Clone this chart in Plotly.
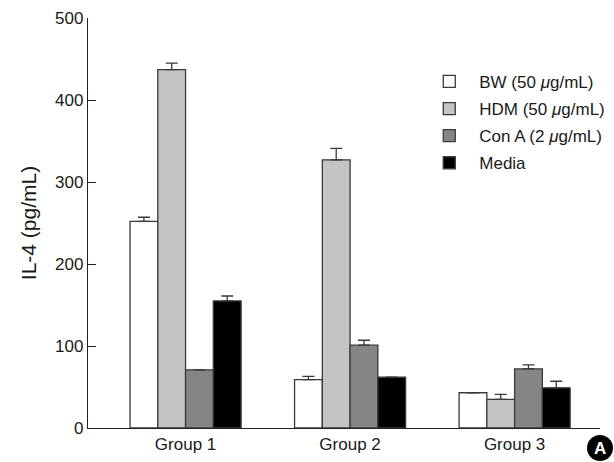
import plotly.graph_objects as go

# IL-4 release by stimulus, three groups
groups = ["Group 1", "Group 2", "Group 3"]
series_names = ["BW (50 <i>μ</i>g/mL)", "HDM (50 <i>μ</i>g/mL)",
                "Con A (2 <i>μ</i>g/mL)", "Media"]
bw = [252, 59, 43]
hdm = [437, 327, 35]
cona = [71, 101, 72]
media = [155, 62, 49]
# upper error (SEM) for each bar
bw_err = [5, 4, 0]
hdm_err = [8, 14, 6]
cona_err = [0, 6, 5]
media_err = [6, 0, 8]

fills = ["#ffffff", "#c4c4c4", "#858585", "#000000"]
values = [bw, hdm, cona, media]
errors = [bw_err, hdm_err, cona_err, media_err]

FONT = "Liberation Sans, Arial, sans-serif"

fig = go.Figure()
for i, (name, vals, errs, col) in enumerate(zip(series_names, values, errors, fills)):
    fig.add_trace(go.Bar(
        x=groups, y=vals, name=name, legendgroup=f"g{i}",
        marker=dict(color=col, line=dict(color="#3a3a3a", width=1.3)),
        error_y=dict(type="data", symmetric=False, array=errs,
                     arrayminus=[0] * len(errs), visible=True,
                     color="#3a3a3a", thickness=1.3, width=6),
    ))

fig.update_layout(
    width=614, height=462,
    margin=dict(l=88, r=14, t=18, b=34, autoexpand=False),
    paper_bgcolor="white", plot_bgcolor="white",
    barmode="group", bargap=0.325, bargroupgap=0,
    font=dict(family=FONT, color="#1a1a1a"),
    showlegend=True,
    legend=dict(x=0.647, y=0.888, xanchor="left", yanchor="top",
                font=dict(size=17, family=FONT), tracegroupgap=2,
                itemwidth=50, bgcolor="rgba(0,0,0,0)"),
    xaxis=dict(range=[-0.593, 2.519], showline=True, linecolor="#222",
               linewidth=1.3, ticks="", tickfont=dict(size=17),
               showgrid=False, zeroline=False, automargin=False),
    yaxis=dict(range=[0, 500], tickvals=[0, 100, 200, 300, 400, 500],
               showline=True, linecolor="#222", linewidth=1.3,
               ticks="inside", ticklen=8, tickcolor="#222", tickwidth=1.3,
               tickfont=dict(size=17), showgrid=False, zeroline=False,
               automargin=False,
               title=dict(text="IL-4 (pg/mL)", font=dict(size=21), standoff=12)),
)

# panel badge, sized in pixels and anchored at the right end of the x axis
fig.add_shape(type="circle", xref="paper", yref="paper",
              xsizemode="pixel", ysizemode="pixel",
              xanchor=1.0, yanchor=0.0,
              x0=-13, x1=13, y0=-33, y1=-7,
              fillcolor="black", line=dict(color="black", width=0),
              layer="above")
fig.add_annotation(x=1.0, y=0.0, xref="paper", yref="paper",
                   xanchor="center", yanchor="middle",
                   yshift=-20, text="<b>A</b>", showarrow=False,
                   font=dict(size=17, color="white", family=FONT))

fig.write_html("out.html")
